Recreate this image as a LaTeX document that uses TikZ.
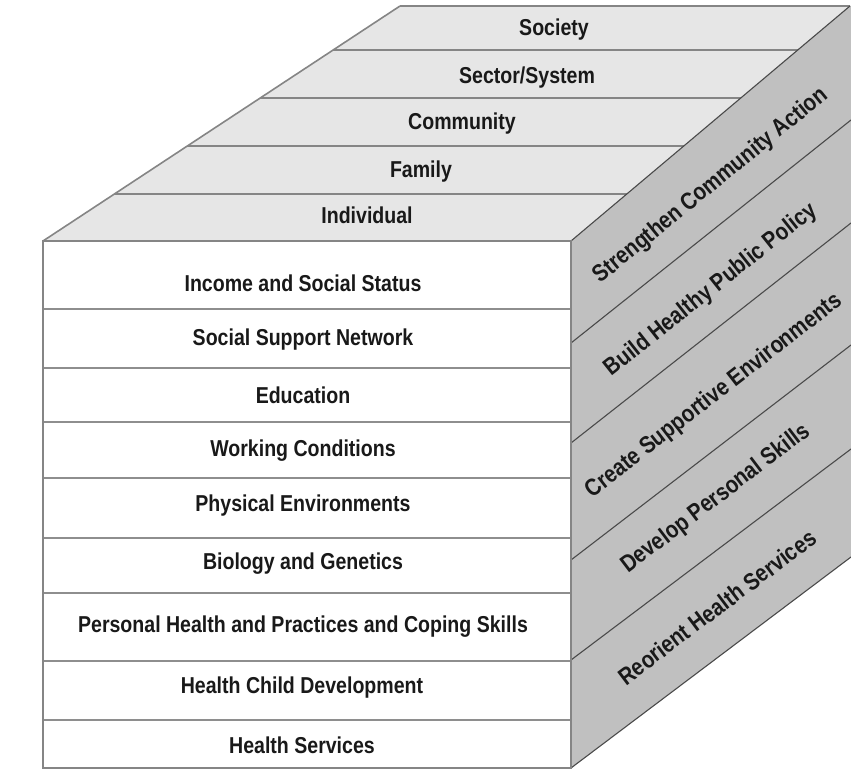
\documentclass[tikz,border=0pt]{standalone}
\usepackage{fontspec}
\newfontfamily\cubefont[FakeStretch=0.85]{Liberation Sans}
\definecolor{topgray}{HTML}{E6E6E6}
\definecolor{sidegray}{HTML}{C0C0C0}
\definecolor{edgegray}{HTML}{858585}
\definecolor{rowline}{HTML}{8E8E8E}
\definecolor{diagline}{HTML}{4A4A4A}
\tikzset{
  lbl/.style={font=\cubefont\bfseries\fontsize{23}{25}\selectfont, text=black!90, inner sep=0pt},
  sidelbl/.style={font=\cubefont\bfseries\fontsize{24}{26}\selectfont, text=black!90, inner sep=0pt},
  edge/.style={draw=edgegray, line width=1.6pt},
  rowsep/.style={draw=rowline, line width=2.2pt},
  topsep/.style={draw=edgegray, line width=1.8pt},
  sidesep/.style={draw=diagline, line width=1.1pt}
}
\begin{document}
\begin{tikzpicture}[x=1pt,y=-1pt]
\useasboundingbox (0,0) rectangle (851,770);
% corners
\coordinate (FTL) at (43,241);
\coordinate (FTR) at (571,241);
\coordinate (FBL) at (43,768);
\coordinate (FBR) at (571,768);
\coordinate (BTL) at (400,6);
\coordinate (BTR) at (850,6);
\coordinate (RBR) at (851,557);
% top face
\fill[topgray] (FTL) -- (BTL) -- (BTR) -- (FTR) -- cycle;
% right face
\fill[sidegray] (FTR) -- (BTR) -- (851,6) -- (RBR) -- (FBR) -- cycle;
% front face
\fill[white] (FTL) rectangle (FBR);
% top face band lines
\coordinate (t1l) at (333.2,50);  \coordinate (t1r) at (797.8,50);
\coordinate (t2l) at (260.2,98);  \coordinate (t2r) at (740.8,98);
\coordinate (t3l) at (187.3,146); \coordinate (t3r) at (683.8,146);
\coordinate (t4l) at (114.4,194); \coordinate (t4r) at (626.8,194);
\foreach \i in {1,...,4} \draw[topsep] (t\i l) -- (t\i r);
% right face diagonal lines
\coordinate (d1a) at (571,343); \coordinate (d1b) at (851,120);
\coordinate (d2a) at (571,443); \coordinate (d2b) at (851,223);
\coordinate (d3a) at (571,560); \coordinate (d3b) at (851,345);
\coordinate (d4a) at (571,660); \coordinate (d4b) at (851,449);
\foreach \i in {1,...,4} \draw[sidesep] (d\i a) -- (d\i b);
% front rows
\foreach \y [count=\k] in {309,368,422,478,538,593,661,720} {
  \coordinate (r\k l) at (43,\y); \coordinate (r\k r) at (571,\y);
  \draw[rowsep] (r\k l) -- (r\k r);
}
% outlines
\draw[edge] (BTL) -- (BTR);
\draw[edge] (FTL) -- (BTL);
\draw[diagline, line width=1.1pt] (FTR) -- (BTR);
\draw[diagline, line width=1.1pt] (FBR) -- (RBR);
\draw[edge] (FTL) -- (FTR);
\draw[edge] (FTL) rectangle (FBR);
% top labels
\node[lbl] (society) at (554,30) {Society};
\node[lbl] (sector) at (527,78) {Sector/System};
\node[lbl] (community) at (462,124) {Community};
\node[lbl] (family) at (421,172) {Family};
\node[lbl] (individual) at (367,215) {Individual};
% front labels
\node[lbl] (income) at (303,283) {Income and Social Status};
\node[lbl] (support) at (303,340) {Social Support Network};
\node[lbl] (education) at (303,395) {Education};
\node[lbl] (working) at (303,451) {Working Conditions};
\node[lbl] (physical) at (303,506) {Physical Environments};
\node[lbl] (biology) at (303,564) {Biology and Genetics};
\node[lbl] (personal) at (303,627) {Personal Health and Practices and Coping Skills};
\node[lbl] (child) at (302,688) {Health Child Development};
\node[lbl] (services) at (302,745) {Health Services};
% right labels
\node[sidelbl, rotate=39.2] (strengthen) at (711,186) {Strengthen Community Action};
\node[sidelbl, rotate=38.4] (build) at (711,290) {Build Healthy Public Policy};
\node[sidelbl, rotate=37.8] (create) at (714,396) {Create Supportive Environments};
\node[sidelbl, rotate=37.3] (develop) at (716,499) {Develop Personal Skills};
\node[sidelbl, rotate=37.0] (reorient) at (717,607) {Reorient Health Services};
\end{tikzpicture}
\end{document}
